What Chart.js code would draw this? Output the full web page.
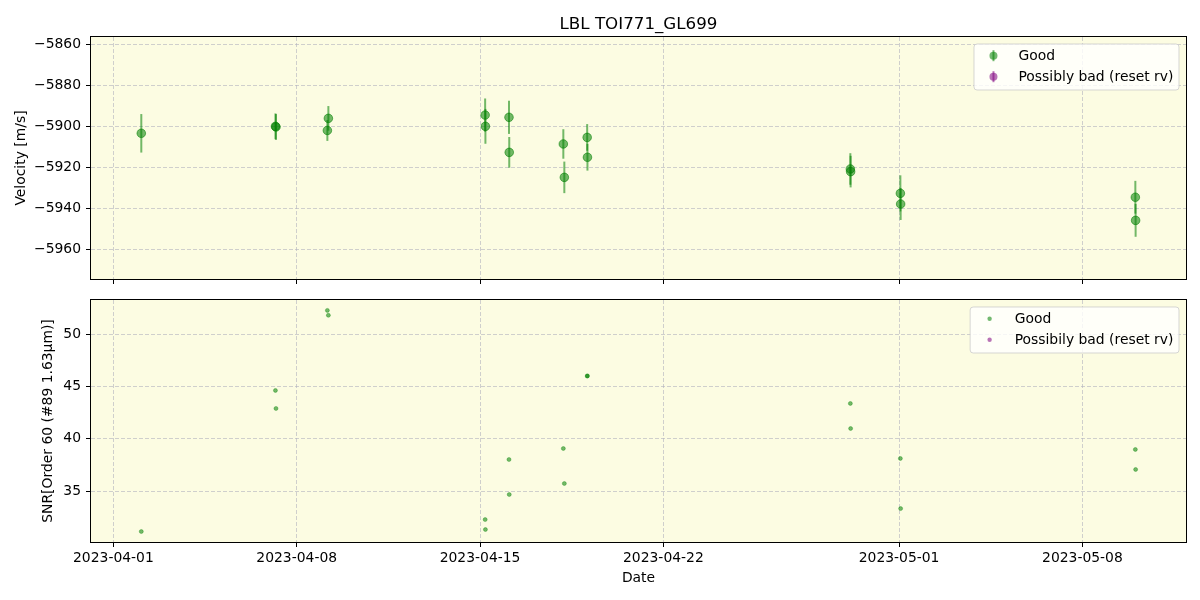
<!DOCTYPE html>
<html><head><meta charset="utf-8">
<script src="https://cdn.jsdelivr.net/npm/chart.js@4/dist/chart.umd.min.js"></script>
<style>
html,body{margin:0;padding:0;background:#fff;width:1200px;height:600px;overflow:hidden}
#wrapA{position:absolute;left:0;top:0;width:1200px;height:290px}
#wrapB{position:absolute;left:0;top:290px;width:1200px;height:310px}
canvas{display:block}
</style></head><body>
<div id="wrapA"><canvas id="cA" width="1200" height="290"></canvas></div>
<div id="wrapB"><canvas id="cB" width="1200" height="310"></canvas></div>
<script>
// ---------------- data ----------------
const chartTitle = 'LBL TOI771_GL699';
const obsDates = [
  '2023-04-02T01:34',
  '2023-04-07T04:30','2023-04-07T05:00',
  '2023-04-09T04:05','2023-04-09T05:00',
  '2023-04-15T04:40','2023-04-15T04:55',
  '2023-04-16T02:31','2023-04-16T02:45',
  '2023-04-18T04:19','2023-04-18T05:14',
  '2023-04-19T02:10','2023-04-19T02:25',
  '2023-04-29T03:20','2023-04-29T03:35',
  '2023-05-01T01:10','2023-05-01T01:25',
  '2023-05-10T00:30','2023-05-10T00:45'
];
const velocity = [
  -5903.4,
  -5900.0, -5900.3,
  -5902.0, -5896.1,
  -5894.5, -5900.0,
  -5895.6, -5912.7,
  -5908.6, -5924.9,
  -5905.4, -5915.1,
  -5920.8, -5922.1,
  -5932.7, -5937.9,
  -5934.6, -5945.9
];
const velocityErr = [
  9.4,
  6.3, 6.3,
  5.1, 6.0,
  8.1, 8.5,
  8.1, 7.5,
  7.2, 7.7,
  6.5, 6.5,
  7.7, 7.7,
  8.8, 7.8,
  8.0, 8.0
];
const snr = [
  31.16,
  44.62, 42.90,
  52.26, 51.79,
  32.30, 31.35,
  38.03, 34.69,
  39.08, 35.74,
  45.99, 46.01,
  43.38, 40.99,
  38.13, 33.35,
  38.99, 37.08
];
// "possibly bad" series (empty in this dataset)
const badDates = [];
const badVelocity = [];
const badVelocityErr = [];
const badSnr = [];

const dateTickLabels = ['2023-04-01','2023-04-08','2023-04-15','2023-04-22','2023-05-01','2023-05-08'];
const velocityTicks = [-5960,-5940,-5920,-5900,-5880,-5860];
const snrTicks = [35,40,45,50];
const topLabels = ['Good','Possibly bad (reset rv)'];
const bottomLabels = ['Good','Possibily bad (reset rv)'];
const xTitle = 'Date';
const yTitleTop = 'Velocity [m/s]';
const yTitleBottom = 'SNR[Order 60 (#89 1.63\u03BCm)]';

// ---------------- styling ----------------
const FONT = 'DejaVu Sans';
const FS = 13.9;
const GREEN = 'rgba(0,128,0,0.55)';
const PURPLE = 'rgba(128,0,128,0.55)';
const BG = 'rgb(252,252,226)';
const GRID = 'rgba(176,176,190,0.6)';
const DAY = 86400000;
const ts = s => Date.parse(s + 'Z');
const X0 = ts('2023-04-01T00:00');
const X_MIN = X0 - 0.855 * DAY;
const X_MAX = X0 + 40.955 * DAY;

const minusFmt = v => String(v).replace('-', '\u2212');

// ---------------- plugins ----------------
const bgPlugin = {
  id: 'bgPlugin',
  beforeDraw(chart) {
    const a = chart.chartArea, ctx = chart.ctx;
    ctx.save();
    ctx.fillStyle = '#fff';
    ctx.fillRect(0, 0, chart.width, chart.height);
    ctx.fillStyle = BG;
    ctx.fillRect(a.left, a.top, a.right - a.left, a.bottom - a.top);
    ctx.restore();
  },
  afterDraw(chart) {
    const a = chart.chartArea, ctx = chart.ctx, o = chart.options.plugins.bgPlugin;
    ctx.save();
    ctx.strokeStyle = '#000';
    ctx.lineWidth = 1;
    ctx.strokeRect(a.left - 0.5, a.top - 0.5, a.right - a.left + 1, a.bottom - a.top + 1);
    ctx.fillStyle = '#000';
    // y title
    ctx.font = FS + 'px "' + FONT + '"';
    ctx.save();
    ctx.translate(o.yTitleX, (a.top + a.bottom) / 2);
    ctx.rotate(-Math.PI / 2);
    ctx.textAlign = 'center';
    ctx.textBaseline = 'middle';
    ctx.fillText(o.yTitle, 0, 0);
    ctx.restore();
    if (o.xTitle) {
      ctx.textAlign = 'center';
      ctx.textBaseline = 'middle';
      ctx.fillText(o.xTitle, (a.left + a.right) / 2, o.xTitleY);
    }
    if (o.title) {
      ctx.font = '16.7px "' + FONT + '"';
      ctx.textAlign = 'center';
      ctx.textBaseline = 'alphabetic';
      ctx.fillText(o.title, (a.left + a.right) / 2, a.top - 8.3);
    }
    // legend
    const L = o.legend;
    ctx.font = FS + 'px "' + FONT + '"';
    const dsets = chart.data.datasets;
    let tw = 0;
    dsets.forEach(d => { tw = Math.max(tw, ctx.measureText(d.label).width); });
    const pad = 0.4 * FS, hl = 2.0 * FS, htp = 0.8 * FS;
    const w = 2 * pad + hl + htp + tw;
    const h = 46;
    const right = a.right - 7, top = a.top + 7, left = right - w;
    ctx.beginPath();
    if (ctx.roundRect) ctx.roundRect(left, top, w, h, 3); else ctx.rect(left, top, w, h);
    ctx.fillStyle = 'rgba(255,255,255,0.8)';
    ctx.fill();
    ctx.strokeStyle = 'rgba(204,204,204,0.8)';
    ctx.lineWidth = 1;
    ctx.stroke();
    dsets.forEach((d, i) => {
      const cy = top + 11.7 + i * 21;
      const cx = left + pad + hl / 2;
      ctx.fillStyle = d.backgroundColor;
      ctx.strokeStyle = d.backgroundColor;
      if (L.errorbar) {
        ctx.lineWidth = 2;
        ctx.beginPath(); ctx.moveTo(cx, cy - 5.5); ctx.lineTo(cx, cy + 5.5); ctx.stroke();
      }
      ctx.beginPath(); ctx.arc(cx, cy, L.r, 0, Math.PI * 2); ctx.fill();
      ctx.fillStyle = '#000';
      ctx.textAlign = 'left';
      ctx.textBaseline = 'middle';
      ctx.fillText(d.label, left + pad + hl + htp, cy + 0.5);
    });
    ctx.restore();
  }
};

const errorBars = {
  id: 'errorBars',
  beforeDatasetsDraw(chart) {
    const ctx = chart.ctx, xs = chart.scales.x, ys = chart.scales.y, a = chart.chartArea;
    ctx.save();
    ctx.beginPath(); ctx.rect(a.left, a.top, a.right - a.left, a.bottom - a.top); ctx.clip();
    chart.data.datasets.forEach(ds => {
      if (!ds.errors) return;
      ctx.strokeStyle = ds.borderColor;
      ctx.lineWidth = 2;
      ds.data.forEach((p, j) => {
        const x = xs.getPixelForValue(p.x);
        ctx.beginPath();
        ctx.moveTo(x, ys.getPixelForValue(p.y - ds.errors[j]));
        ctx.lineTo(x, ys.getPixelForValue(p.y + ds.errors[j]));
        ctx.stroke();
      });
    });
    ctx.restore();
  }
};

function xScale(showLabels, height) {
  return {
    type: 'linear', min: X_MIN, max: X_MAX,
    afterBuildTicks: s => { s.ticks = dateTickLabels.map(d => ({ value: ts(d + 'T00:00') })); },
    afterFit: s => { s.height = height; s.paddingLeft = 0; s.paddingRight = 0; },
    grid: { color: GRID, lineWidth: 1, drawTicks: true, tickLength: 5, tickColor: '#000', tickWidth: 1, tickBorderDash: [] },
    border: { display: false, dash: [4, 2] },
    ticks: {
      display: showLabels, autoSkip: false, maxRotation: 0, padding: 3, color: '#000',
      font: { family: FONT, size: FS },
      callback: (v, i) => dateTickLabels[i]
    }
  };
}
function yScale(min, max, tickVals) {
  return {
    type: 'linear', min: min, max: max,
    afterBuildTicks: s => { s.ticks = tickVals.map(v => ({ value: v })); },
    afterFit: s => { s.width = 91; s.paddingTop = 0; s.paddingBottom = 0; },
    grid: { color: GRID, lineWidth: 1, drawTicks: true, tickLength: 5, tickColor: '#000', tickWidth: 1, tickBorderDash: [] },
    border: { display: false, dash: [4, 2] },
    ticks: {
      autoSkip: false, padding: 5, color: '#000',
      font: { family: FONT, size: FS },
      callback: v => minusFmt(v)
    }
  };
}

const pts = (dates, ys) => dates.map((d, i) => ({ x: ts(d), y: ys[i] }));

new Chart(document.getElementById('cA'), {
  type: 'scatter',
  data: {
    datasets: [
      { label: topLabels[0], data: pts(obsDates, velocity), errors: velocityErr,
        backgroundColor: GREEN, borderColor: GREEN, pointRadius: 4.3, borderWidth: 1, pointHoverRadius: 4.3 },
      { label: topLabels[1], data: pts(badDates, badVelocity), errors: badVelocityErr,
        backgroundColor: PURPLE, borderColor: PURPLE, pointRadius: 4.3, borderWidth: 1 }
    ]
  },
  options: {
    responsive: false, animation: false, devicePixelRatio: 1,
    layout: { padding: { top: 37, right: 14, left: 0, bottom: 0 } },
    plugins: {
      legend: { display: false }, tooltip: { enabled: false }, title: { display: false },
      bgPlugin: { yTitle: yTitleTop, yTitleX: 21.5, title: chartTitle, legend: { errorbar: true, r: 4 } }
    },
    scales: { x: xScale(false, 11), y: yScale(-5974.5, -5856.4, velocityTicks) }
  },
  plugins: [bgPlugin, errorBars]
});

new Chart(document.getElementById('cB'), {
  type: 'scatter',
  data: {
    datasets: [
      { label: bottomLabels[0], data: pts(obsDates, snr),
        backgroundColor: GREEN, borderColor: GREEN, pointRadius: 2, borderWidth: 0.6 },
      { label: bottomLabels[1], data: pts(badDates, badSnr),
        backgroundColor: PURPLE, borderColor: PURPLE, pointRadius: 2, borderWidth: 0.6 }
    ]
  },
  options: {
    responsive: false, animation: false, devicePixelRatio: 1,
    layout: { padding: { top: 10, right: 14, left: 0, bottom: 0 } },
    plugins: {
      legend: { display: false }, tooltip: { enabled: false }, title: { display: false },
      bgPlugin: { yTitle: yTitleBottom, yTitleX: 48, xTitle: xTitle, xTitleY: 288, legend: { errorbar: false, r: 2.2 } }
    },
    scales: { x: xScale(true, 58), y: yScale(30.16, 53.25, snrTicks) }
  },
  plugins: [bgPlugin, errorBars]
});
</script>
</body></html>
